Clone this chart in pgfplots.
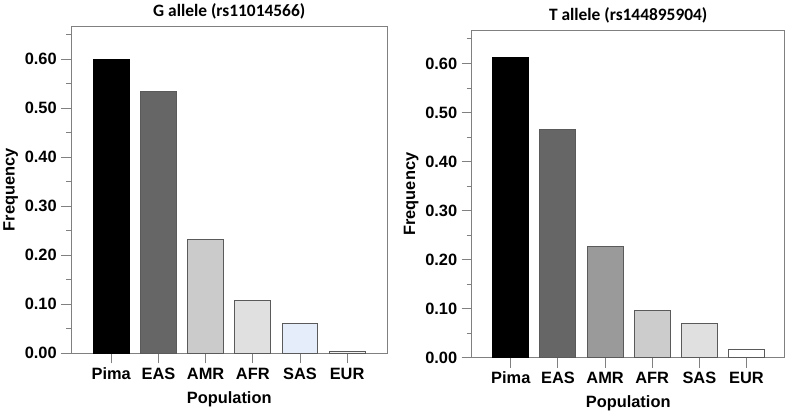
\documentclass[border=0pt]{standalone}
\usepackage{pgfplots}
\pgfplotsset{compat=1.18}
\usepackage{fontspec}
\setmainfont{Liberation Sans}
\newfontfamily\calibri{Carlito}
\definecolor{axgray}{HTML}{808080}
\definecolor{edgegray}{HTML}{5A5A5A}
\definecolor{cEAS}{HTML}{666666}
\definecolor{cAMRa}{HTML}{CBCBCB}
\definecolor{cAFRa}{HTML}{E0E0E0}
\definecolor{cSASa}{HTML}{E5EDFA}
\definecolor{cEURa}{HTML}{F2F2F2}
\definecolor{cAMRb}{HTML}{9A9A9A}
\definecolor{cAFRb}{HTML}{CCCCCC}
\definecolor{cSASb}{HTML}{E0E0E0}
\definecolor{cEURb}{HTML}{FFFFFF}
\pgfplotsset{
  freqaxis/.style={
    scale only axis,
    height=328bp,
    ymin=0, ymax=0.667,
    ytick={0,0.1,0.2,0.3,0.4,0.5,0.6},
    minor ytick={0.05,0.15,0.25,0.35,0.45,0.55,0.65},
    xtick={0,1,2,3,4,5},
    xticklabels={Pima,EAS,AMR,AFR,SAS,EUR},
    tick align=outside,
    xtick pos=bottom, ytick pos=left,
    major tick length=10bp, minor tick length=5bp,
    every tick/.style={draw=axgray, line width=0.9bp},
    axis line style={draw=axgray, line width=1.1bp},
    /pgf/number format/assume math mode=true,
    /pgf/number format/.cd, fixed, fixed zerofill, precision=2, /pgfplots/.cd,
    tick label style={font=\fontsize{16.5}{18}\selectfont\bfseries},
    yticklabel style={xshift=-1bp},
    xticklabel style={yshift=-1bp},
    label style={font=\fontsize{16.5}{18}\selectfont\bfseries},
    xlabel={Population},
    ylabel={Frequency},
    xlabel style={yshift=-5bp},
    title style={font=\calibri\fontsize{17.5}{20}\selectfont\bfseries, yshift=-2bp},
  },
  mybar/.style={ybar, bar width=36bp, bar shift=0pt, draw=edgegray, line width=1bp, fill=#1},
}
\begin{document}
\begin{tikzpicture}
\path (0,0) rectangle (788bp,417bp);
\begin{axis}[freqaxis, at={(69bp,65bp)}, anchor=south west, width=317bp,
  xmin=-0.85, xmax=5.85, title={G allele (rs11014566)}]
\addplot[mybar=black, draw=black] coordinates {(0,0.600)};
\addplot[mybar=cEAS] coordinates {(1,0.535)};
\addplot[mybar=cAMRa] coordinates {(2,0.233)};
\addplot[mybar=cAFRa] coordinates {(3,0.107)};
\addplot[mybar=cSASa] coordinates {(4,0.060)};
\addplot[mybar=cEURa] coordinates {(5,0.003)};
\end{axis}
\begin{axis}[freqaxis, at={(470.7bp,60.7bp)}, anchor=south west, width=314bp,
  xmin=-0.83, xmax=5.81, title={T allele (rs144895904)}]
\addplot[mybar=black, draw=black] coordinates {(0,0.613)};
\addplot[mybar=cEAS] coordinates {(1,0.466)};
\addplot[mybar=cAMRb] coordinates {(2,0.226)};
\addplot[mybar=cAFRb] coordinates {(3,0.097)};
\addplot[mybar=cSASb] coordinates {(4,0.070)};
\addplot[mybar=cEURb] coordinates {(5,0.0175)};
\end{axis}
\end{tikzpicture}
\end{document}
